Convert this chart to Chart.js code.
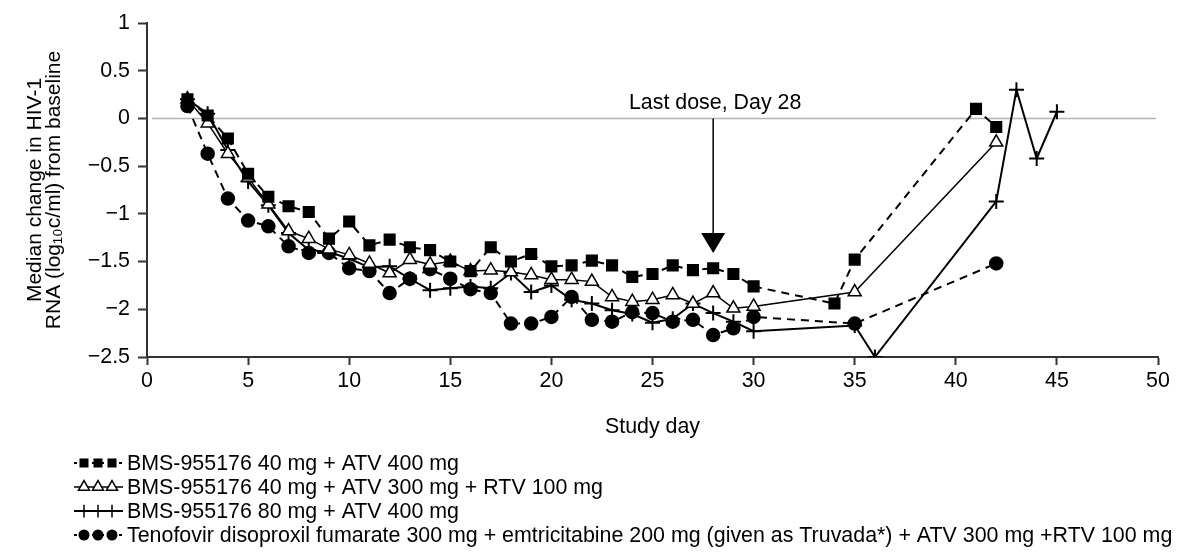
<!DOCTYPE html>
<html>
<head>
<meta charset="utf-8">
<script src="https://cdn.jsdelivr.net/npm/chart.js@4.4.0/dist/chart.umd.min.js"></script>
<style>
  body { margin: 0; background: #fff; }
  #wrap { width: 1177px; height: 558px; }
</style>
</head>
<body>
<div id="wrap"><canvas id="chart" width="1177" height="558"></canvas></div>
<script>
// study days + median change for each arm
const sqDays = [2,3,4,5,6,7,8,9,10,11,12,13,14,15,16,17,18,19,20,21,22,23,24,25,26,27,28,29,30,34,35,41,42];
const sqVals = [0.2,0.03,-0.21,-0.58,-0.82,-0.92,-0.98,-1.26,-1.08,-1.33,-1.27,-1.35,-1.38,-1.5,-1.6,-1.35,-1.5,-1.42,-1.55,-1.54,-1.49,-1.54,-1.66,-1.63,-1.54,-1.59,-1.57,-1.63,-1.76,-1.94,-1.48,0.1,-0.09];

const triDays = [2,3,4,5,6,7,8,9,10,11,12,13,14,15,16,17,18,19,20,21,22,23,24,25,26,27,28,29,30,35,42];
const triVals = [0.2,-0.05,-0.37,-0.62,-0.9,-1.18,-1.26,-1.37,-1.43,-1.52,-1.62,-1.48,-1.53,-1.5,-1.6,-1.59,-1.61,-1.64,-1.69,-1.69,-1.71,-1.87,-1.92,-1.9,-1.85,-1.94,-1.83,-1.99,-1.97,-1.82,-0.25];

const crossDays = [2,3,4,5,6,7,8,9,10,11,12,13,14,15,16,17,18,19,20,21,22,23,24,25,26,27,28,29,30,35,36,42,43,44,45];
const crossVals = [0.2,0.05,-0.33,-0.66,-0.91,-1.2,-1.38,-1.4,-1.47,-1.56,-1.55,-1.68,-1.8,-1.78,-1.76,-1.78,-1.62,-1.82,-1.75,-1.9,-1.94,-2.01,-2.05,-2.14,-2.1,-1.94,-2.04,-2.13,-2.23,-2.17,-2.5,-0.87,0.3,-0.42,0.07];

const circDays = [2,3,4,5,6,7,8,9,10,11,12,13,14,15,16,17,18,19,20,21,22,23,24,25,26,27,28,29,30,35,42];
const circVals = [0.13,-0.37,-0.84,-1.07,-1.13,-1.34,-1.41,-1.41,-1.57,-1.6,-1.83,-1.68,-1.58,-1.68,-1.79,-1.83,-2.15,-2.15,-2.08,-1.87,-2.11,-2.13,-2.03,-2.04,-2.13,-2.11,-2.27,-2.2,-2.08,-2.15,-1.52];

const seriesNames = [
  'BMS-955176 40 mg + ATV 400 mg',
  'BMS-955176 40 mg + ATV 300 mg + RTV 100 mg',
  'BMS-955176 80 mg + ATV 400 mg',
  'Tenofovir disoproxil fumarate 300 mg + emtricitabine 200 mg (given as Truvada*) + ATV 300 mg +RTV 100 mg'
];
const yTicks = [1, 0.5, 0, -0.5, -1, -1.5, -2, -2.5];
const xTicks = [0,5,10,15,20,25,30,35,40,45,50];
const lastDoseDay = 28;
const lastDoseLabel = 'Last dose, Day 28';

// the original lettering is a tall narrow sans; use the narrow Liberation if it is there
function hasFont(name) {
  const c = document.createElement('canvas').getContext('2d');
  const s = 'BMS-955176 mg Wiltf';
  c.font = '40px monospace';
  const a = c.measureText(s).width;
  c.font = '40px "' + name + '", monospace';
  return Math.abs(c.measureText(s).width - a) > 0.5;
}
const NARROW = hasFont('Liberation Sans Narrow');
const FONT = NARROW ? '"Liberation Sans Narrow", "Liberation Sans", Arial, sans-serif' : '"Liberation Sans", Arial, sans-serif';
const FS = NARROW ? 26 : 21.4;
const TITLE_FONT = '"Liberation Sans", Arial, sans-serif';

function pts(days, vals) {
  return days.map((d, i) => ({ x: d, y: vals[i] }));
}

const styles = [
  { pointStyle: 'rect', radius: 7.5, fill: '#000', dash: [8, 6], lw: 2 },
  { pointStyle: 'triangle', radius: 7.5, fill: '#fff', dash: [], lw: 1.5 },
  { pointStyle: 'cross', radius: 7.5, fill: '#000', dash: [], lw: 2 },
  { pointStyle: 'circle', radius: 6.5, fill: '#000', dash: [8, 6], lw: 2 }
];

const allData = [pts(sqDays, sqVals), pts(triDays, triVals), pts(crossDays, crossVals), pts(circDays, circVals)];

const datasets = allData.map((d, i) => ({
  label: seriesNames[i],
  data: d,
  borderColor: '#000',
  borderWidth: styles[i].lw,
  borderDash: styles[i].dash,
  pointStyle: styles[i].pointStyle,
  pointRadius: styles[i].radius,
  pointBackgroundColor: styles[i].fill,
  pointBorderColor: '#000',
  pointBorderWidth: i === 2 ? 2 : 1.5,
  tension: 0,
  fill: false
}));

// small marker drawer for the legend
function marker(ctx, style, x, y) {
  const r = style.radius * 0.85;
  ctx.save();
  ctx.setLineDash([]);
  ctx.strokeStyle = '#000';
  ctx.fillStyle = style.fill;
  ctx.lineWidth = 1.5;
  ctx.beginPath();
  if (style.pointStyle === 'rect') {
    const s = Math.SQRT1_2 * r;
    ctx.rect(x - s, y - s, 2 * s, 2 * s);
    ctx.fill();
  } else if (style.pointStyle === 'triangle') {
    ctx.moveTo(x, y - r);
    ctx.lineTo(x + r * 0.866, y + r * 0.5);
    ctx.lineTo(x - r * 0.866, y + r * 0.5);
    ctx.closePath();
    ctx.fill();
    ctx.stroke();
  } else if (style.pointStyle === 'cross') {
    ctx.moveTo(x - r, y); ctx.lineTo(x + r, y);
    ctx.moveTo(x, y - r); ctx.lineTo(x, y + r);
    ctx.stroke();
  } else {
    ctx.arc(x, y, r, 0, Math.PI * 2);
    ctx.fill();
  }
  ctx.restore();
}

const extras = {
  id: 'extras',
  beforeDatasetsDraw(chart) {
    const ctx = chart.ctx, ya = chart.scales.y, ca = chart.chartArea;
    const y0 = ya.getPixelForValue(0);
    ctx.save();
    ctx.strokeStyle = '#b4b4b4';
    ctx.lineWidth = 1.5;
    ctx.beginPath();
    ctx.moveTo(ca.left + 5, y0);
    ctx.lineTo(ca.right - 2, y0);
    ctx.stroke();
    ctx.restore();
  },
  afterDraw(chart) {
    const ctx = chart.ctx, xa = chart.scales.x, ya = chart.scales.y;
    // arrow for last dose
    const ax = xa.getPixelForValue(lastDoseDay);
    const top = ya.getPixelForValue(0);
    const tip = ya.getPixelForValue(-1.41);
    ctx.save();
    ctx.strokeStyle = '#000';
    ctx.fillStyle = '#000';
    ctx.lineWidth = 1.5;
    ctx.beginPath();
    ctx.moveTo(ax, top);
    ctx.lineTo(ax, tip - 16);
    ctx.stroke();
    ctx.beginPath();
    ctx.moveTo(ax - 12, tip - 20);
    ctx.lineTo(ax + 12, tip - 20);
    ctx.lineTo(ax, tip);
    ctx.closePath();
    ctx.fill();
    ctx.font = FS + 'px ' + FONT;
    ctx.textAlign = 'center';
    ctx.textBaseline = 'middle';
    ctx.fillText(lastDoseLabel, ax + 2, top - 15);

    // legend under the chart
    const rows = [463, 487, 511, 535];
    rows.forEach((ry, i) => {
      const st = styles[i];
      ctx.save();
      ctx.strokeStyle = '#000';
      ctx.lineWidth = st.lw;
      ctx.setLineDash(st.dash.length ? [3, 6] : []);
      ctx.beginPath();
      ctx.moveTo(74, ry);
      ctx.lineTo(123, ry);
      ctx.stroke();
      ctx.restore();
      [84, 98, 112].forEach(mx => marker(ctx, st, mx, ry));
      ctx.fillStyle = '#000';
      ctx.font = FS + 'px ' + FONT;
      ctx.textAlign = 'left';
      ctx.textBaseline = 'middle';
      ctx.fillText(seriesNames[i], 127, ry + 1);
    });
    ctx.restore();
  }
};

new Chart(document.getElementById('chart'), {
  type: 'line',
  data: { datasets },
  options: {
    responsive: false,
    animation: false,
    layout: { padding: { left: 0, right: 19, top: 23, bottom: 115 } },
    plugins: { legend: { display: false }, tooltip: { enabled: false } },
    scales: {
      x: {
        type: 'linear',
        min: 0, max: 50,
        afterBuildTicks: (s) => { s.ticks = xTicks.map(v => ({ value: v })); },
        afterFit: (s) => { s.height = 558 - 115 - 357; },
        ticks: { color: '#000', font: { family: FONT, size: FS }, padding: 3, maxRotation: 0 },
        grid: { drawOnChartArea: false, tickLength: 8, color: '#333', tickWidth: 2 },
        border: { color: '#333', width: 2 },
        title: { display: true, text: 'Study day', color: '#000', font: { family: FONT, size: FS, lineHeight: 1.2 }, padding: { top: 0, bottom: 3 } }
      },
      y: {
        min: -2.5, max: 1,
        afterBuildTicks: (s) => { s.ticks = yTicks.map(v => ({ value: v })); },
        afterFit: (s) => { s.width = 147; },
        ticks: {
          color: '#000', font: { family: FONT, size: FS }, padding: 8,
          callback: (v) => v < 0 ? '\u2212' + Math.abs(v) : String(v)
        },
        grid: { drawOnChartArea: false, tickLength: 9, color: '#333', tickWidth: 2 },
        border: { color: '#333', width: 2 },
        title: {
          display: true,
          text: ['Median change in HIV-1', 'RNA (log\u2081\u2080c/ml) from baseline'],
          color: '#000', font: { family: TITLE_FONT, size: 21, lineHeight: '19px' }, padding: { top: 26, bottom: 0 }
        }
      }
    }
  },
  plugins: [extras]
});
</script>
</body>
</html>
